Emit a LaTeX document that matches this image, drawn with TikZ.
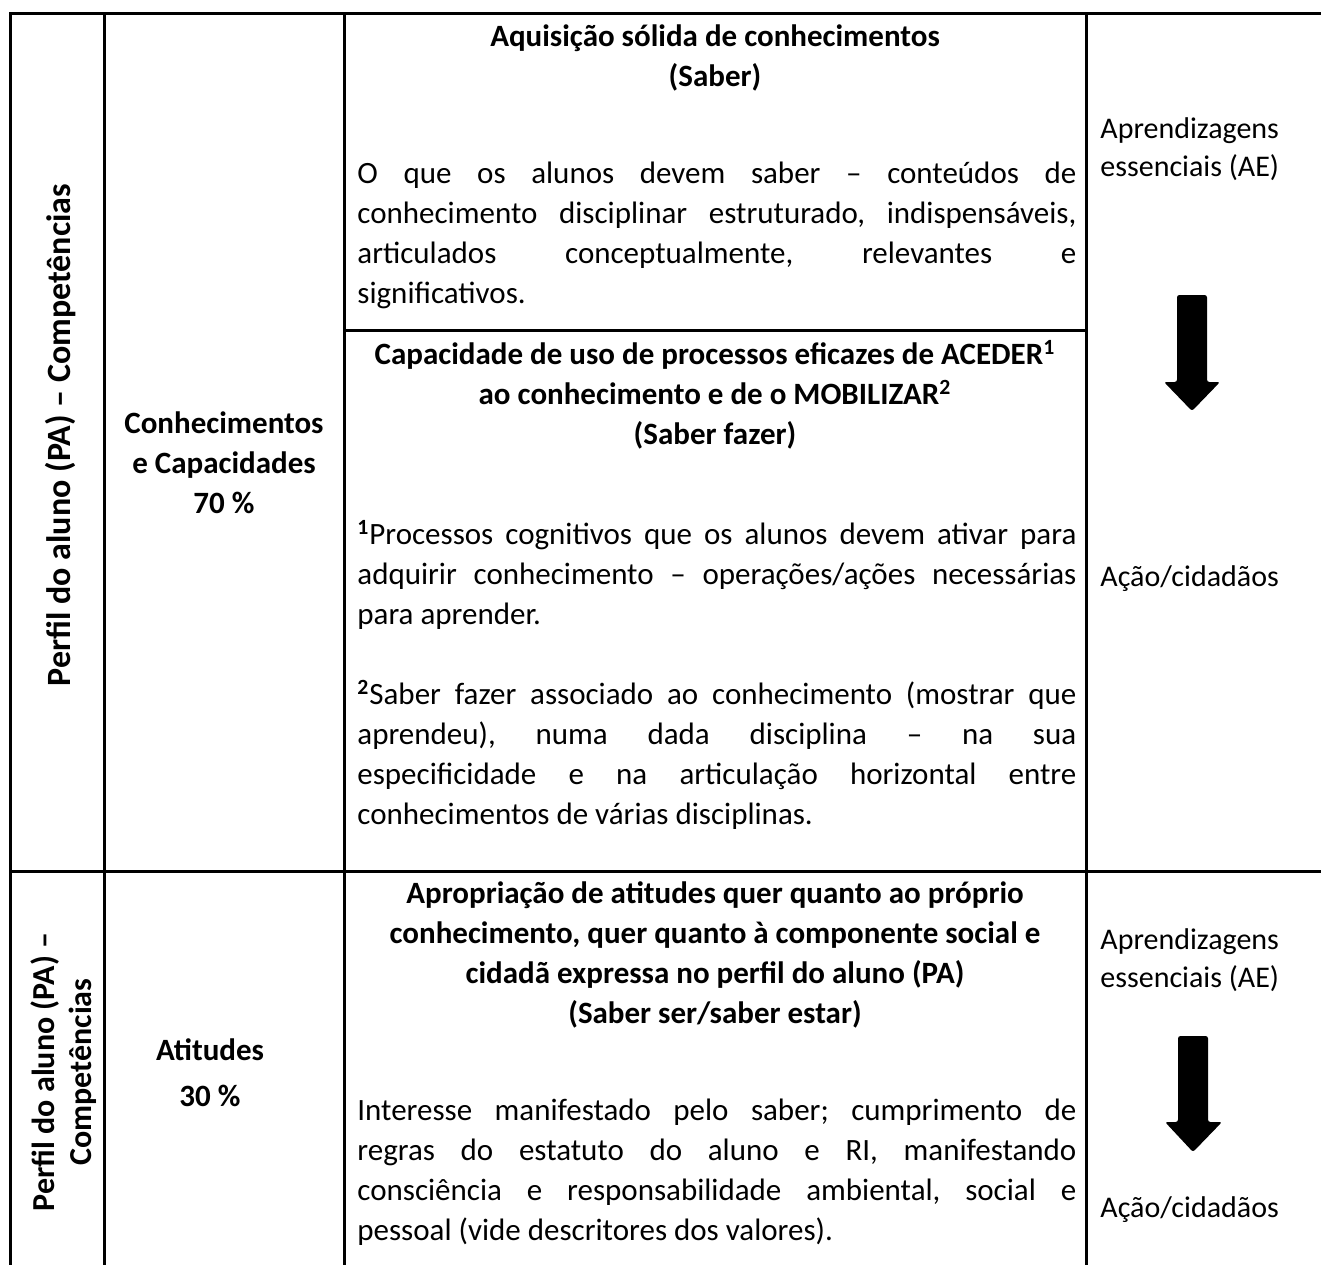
\documentclass[tikz,border=0pt]{standalone}
\RequirePackage{fontspec}
\setmainfont{Carlito}
\RequirePackage{tikz}
\RequirePackage{tkz-euclide}
\usetikzlibrary{calc}
\frenchspacing

\newlength{\larg}
\setlength{\larg}{359.5pt}
\newcommand{\jus}[1]{\makebox[\larg][s]{#1}}
\newcommand{\corpo}{\fontsize{15.5}{20}\selectfont}

\tikzset{
    titulo/.style={font=\corpo\bfseries, align=center, anchor=north, inner sep=0pt, execute at begin node=\strut},
    texto/.style={font=\corpo, align=left, anchor=north west, inner sep=0pt, execute at begin node=\strut},
    lado/.style={texto, font=\fontsize{15}{20}\selectfont},
    seta/.style={fill=black, rounded corners=1.2pt},
    grade/.style={line width=1.5pt, line cap=rect}
}

\begin{document}
\begin{tikzpicture}[x=0.5pt,y=-0.5pt]
                    \useasboundingbox (0,0) rectangle (1321,1264);

                    % grelha da tabela
                    \tkzDefPoint(10,13){A}
                    \tkzDefPoint(1321,13){B}
                    \tkzDefPoint(10,1264){C}
                    \tkzDefPoint(104,13){D}
                    \tkzDefPoint(104,1264){E}
                    \tkzDefPoint(344,13){F}
                    \tkzDefPoint(344,1264){G}
                    \tkzDefPoint(1086,13){H}
                    \tkzDefPoint(1086,1264){I}
                    \tkzDefPoint(10,871){J}
                    \tkzDefPoint(1321,871){K}
                    \tkzDefPoint(344,330){L}
                    \tkzDefPoint(1086,330){M}
                    \tkzDrawSegments[grade](A,B A,C D,E F,G H,I J,K L,M)

                    % coluna 1
                    \node[titulo, font=\fontsize{17}{20}\selectfont\bfseries, rotate=90, anchor=base] (pa1) at (70,435) {Perfil do aluno (PA) – Competências};
                    \node[titulo, font=\fontsize{16}{20}\selectfont\bfseries, rotate=90, anchor=center] (pa2) at (67,1072) {Perfil do aluno (PA) –\\[-1.5pt]Competências};

                    % coluna 2
                    \node[titulo] (cc) at (224,411) {Conhecimentos\\e Capacidades\\70 \%};
                    \node[titulo] (at) at (210,1038) {Atitudes\\[3pt]30 \%};

                    % coluna 3
                    \node[titulo] (saber) at (715,24) {Aquisição sólida de conhecimentos\\(Saber)};
                    \node[texto] (psaber) at (357,162) {\jus{O que os alunos devem saber – conteúdos de}\\
                        \jus{conhecimento disciplinar estruturado, indispensáveis,}\\
                        \jus{articulados conceptualmente, relevantes e}\\
                        significativos.};
                    \node[titulo] (fazer) at (715,340) {Capacidade de uso de processos eficazes de ACEDER\textsuperscript{1}\\
                        ao conhecimento e de o MOBILIZAR\textsuperscript{2}\\(Saber fazer)};
                    \node[texto] (pfazer) at (357,520) {\jus{\textsuperscript{\textbf{1}}Processos cognitivos que os alunos devem ativar para}\\
                        \jus{adquirir conhecimento – operações/ações necessárias}\\
                        para aprender.\\[20pt]
                        \jus{\textsuperscript{\textbf{2}}Saber fazer associado ao conhecimento (mostrar que}\\
                        \jus{aprendeu), numa dada disciplina – na sua}\\
                        \jus{especificidade e na articulação horizontal entre}\\
                        conhecimentos de várias disciplinas.};
                    \node[titulo] (ser) at (715,881) {Apropriação de atitudes quer quanto ao próprio\\
                        conhecimento, quer quanto à componente social e\\
                        cidadã expressa no perfil do aluno (PA)\\(Saber ser/saber estar)};
                    \node[texto] (pser) at (357,1099) {\jus{Interesse manifestado pelo saber; cumprimento de}\\
                        \jus{regras do estatuto do aluno e RI, manifestando}\\
                        \jus{consciência e responsabilidade ambiental, social e}\\
                        pessoal (vide descritores dos valores).};

                    % coluna 4
                    \node[lado] (ae1) at (1100,117) {Aprendizagens\\[-1pt]essenciais (AE)};
                    \fill[seta] (1177,295) -- (1207,295) -- (1207,382) -- (1220,382) -- (1192,411) -- (1164,382) -- (1177,382) -- cycle;
                    \node[lado, anchor=base west] (ac1) at (1100,586) {Ação/cidadãos};
                    \node[lado] (ae2) at (1100,928) {Aprendizagens\\[-1pt]essenciais (AE)};
                    \fill[seta] (1178,1036) -- (1208,1036) -- (1208,1122) -- (1222,1122) -- (1193,1152) -- (1165,1122) -- (1178,1122) -- cycle;
                    \node[lado, anchor=base west] (ac2) at (1100,1217) {Ação/cidadãos};
                \end{tikzpicture}
\end{document}
